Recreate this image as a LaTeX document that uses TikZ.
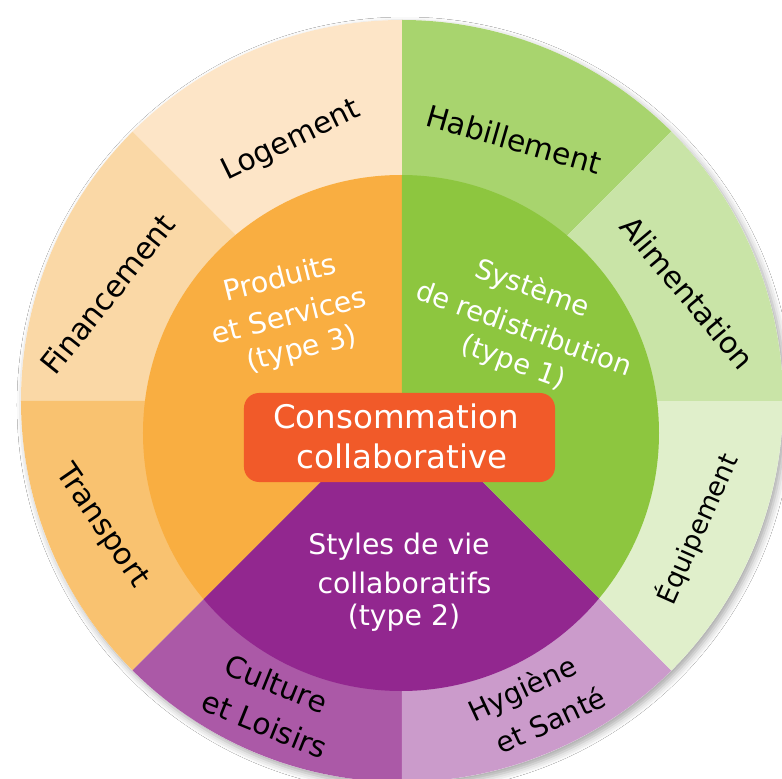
\documentclass[tikz,border=0pt]{standalone}
\usepackage{fontspec}
\setmainfont{DejaVu Sans}
\usetikzlibrary{shadows.blur}
\definecolor{cLog}{HTML}{FDE5C7}
\definecolor{cFin}{HTML}{FAD8A6}
\definecolor{cTra}{HTML}{F9C270}
\definecolor{cOra}{HTML}{F9AE41}
\definecolor{cHab}{HTML}{A8D46E}
\definecolor{cAli}{HTML}{C9E4A7}
\definecolor{cEqu}{HTML}{E0EFCB}
\definecolor{cGre}{HTML}{8DC63F}
\definecolor{cPur}{HTML}{92278F}
\definecolor{cCul}{HTML}{AB59A7}
\definecolor{cHyg}{HTML}{CB9BCB}
\definecolor{cBox}{HTML}{F15A29}
\tikzset{
  ringlbl/.style={inner sep=0pt, text=black, font=\fontsize{#1}{#1}\selectfont},
  innerlbl/.style={inner sep=0pt, text=white, font=\fontsize{#1}{#1}\selectfont},
  centerbox/.style={fill=cBox, rounded corners=15pt, minimum width=311pt, minimum height=89pt, inner sep=0pt}
}
\begin{document}
\begin{tikzpicture}[x=1pt,y=1pt]
\useasboundingbox (-402,-378) rectangle (380,401);
\clip (-402,-378) rectangle (380,401);
\fill[white] (-402,-378) rectangle (380,401);
\coordinate (O) at (0,0);
\coordinate (IC) at (-1,-32);
% shadow
\fill[white, blur shadow={shadow xshift=3pt, shadow yshift=-4pt, shadow blur radius=7pt, shadow opacity=35}] (O) circle (381);
% outer ring sectors
\fill[cHab] (O) -- (45:381) arc (45:90:381) -- cycle;
\fill[cLog] (O) -- (90:381) arc (90:135:381) -- cycle;
\fill[cFin] (O) -- (135:381) arc (135:180:381) -- cycle;
\fill[cTra] (O) -- (180:381) arc (180:225:381) -- cycle;
\fill[cCul] (O) -- (225:381) arc (225:270:381) -- cycle;
\fill[cHyg] (O) -- (270:381) arc (270:315:381) -- cycle;
\fill[cEqu] (O) -- (315:381) arc (315:360:381) -- cycle;
\fill[cAli] (O) -- (0:381) arc (0:45:381) -- cycle;
% inner disk
\begin{scope}
\clip (IC) circle (258);
\fill[cOra] (O) -- (90:420) arc (90:225:420) -- cycle;
\fill[cPur] (O) -- (225:420) arc (225:315:420) -- cycle;
\fill[cGre] (O) -- (-45:420) arc (-45:90:420) -- cycle;
\end{scope}
% central box
\node[centerbox] (box) at (-2.5,-36.5) {};
\node[innerlbl=32.5] (cons) at (-6,-15) {Consommation};
\node[innerlbl=32.5] (coll) at (0,-55) {collaborative};
% inner labels
\node[innerlbl=28.5, rotate=14] (prod) at (-122.3,124) {Produits};
\node[innerlbl=28.5, rotate=14] (serv) at (-113,86) {et Services};
\node[innerlbl=28.5, rotate=14] (typ3) at (-100,51) {(type 3)};
\node[innerlbl=27.5, rotate=-20] (syst) at (130,112) {Système};
\node[innerlbl=27.5, rotate=-20] (redi) at (122.5,73) {de redistribution};
\node[innerlbl=27.5, rotate=-20] (typ1) at (111,38) {(type 1)};
\node[innerlbl=28.3] (styl) at (-3,-146) {Styles de vie};
\node[innerlbl=28.3] (coll2) at (2.5,-181.5) {collaboratifs};
\node[innerlbl=28.3] (typ2) at (2,-217) {(type 2)};
% ring labels
\node[ringlbl=29.7, rotate=26] (loge) at (-110.5,260) {Logement};
\node[ringlbl=29.8, rotate=-16] (habi) at (112,261.5) {Habillement};
\node[ringlbl=29.7, rotate=-50] (alim) at (285.5,108.5) {Alimentation};
\node[ringlbl=26.6, rotate=66] (equi) at (295,-128) {Équipement};
\node[ringlbl=28, rotate=25] (hygi) at (121,-289.5) {Hygiène};
\node[ringlbl=28, rotate=25] (sant) at (148.5,-319) {et Santé};
\node[ringlbl=29.5, rotate=-22] (cult) at (-125.5,-282.5) {Culture};
\node[ringlbl=29.5, rotate=-22] (lois) at (-137,-323.5) {et Loisirs};
\node[ringlbl=30, rotate=-55.5] (tran) at (-300.5,-125.5) {Transport};
\node[ringlbl=30.2, rotate=51.3] (fina) at (-294.5,107) {Financement};
\end{tikzpicture}
\end{document}
